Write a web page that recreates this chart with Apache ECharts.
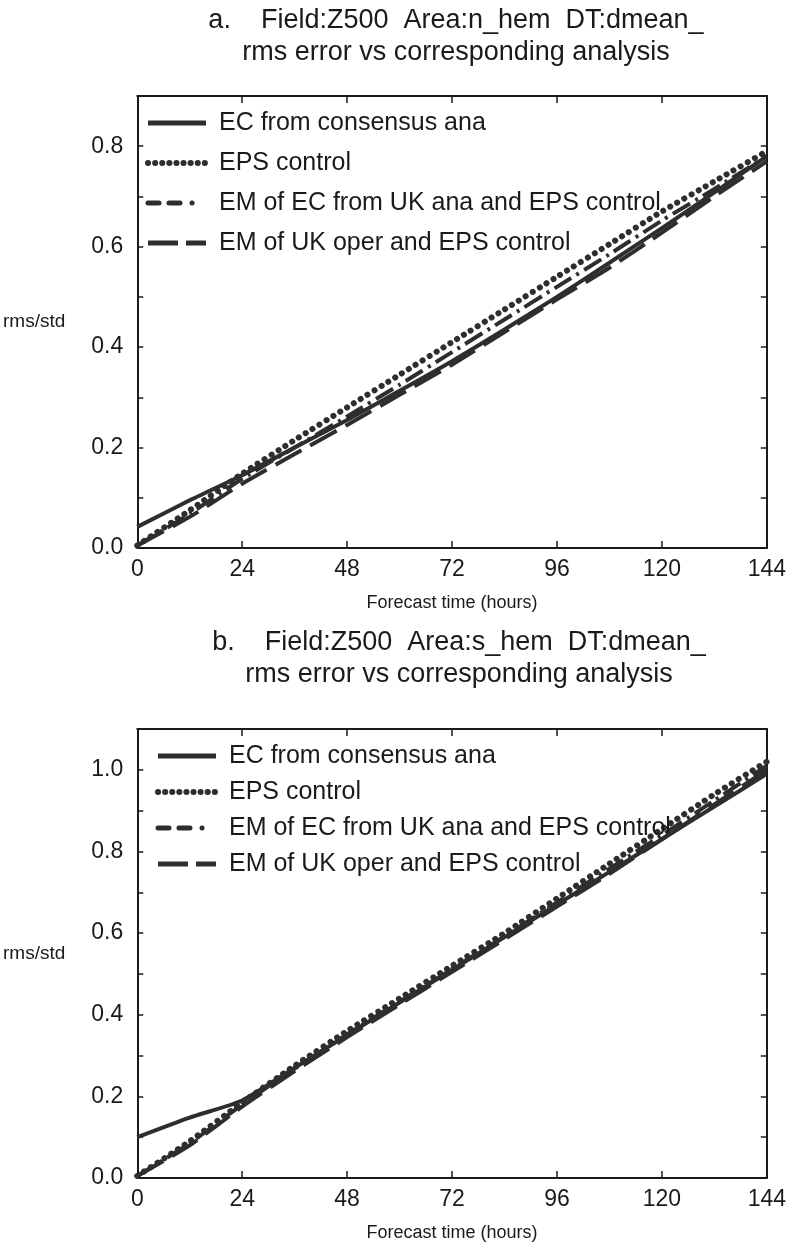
<!DOCTYPE html>
<html>
<head>
<meta charset="utf-8">
<script src="https://cdn.jsdelivr.net/npm/echarts@6/dist/echarts.min.js"></script>
<style>
  html, body { margin: 0; padding: 0; background: #fff; }
  #chart { width: 789px; height: 1253px; }
</style>
</head>
<body>
<div id="chart"></div>
<script>
// forecast hours (x) shared by both panels
const hours = [0, 12, 24, 36, 48, 60, 72, 84, 96, 108, 120, 132, 144];

const seriesNames = [
  'EC from consensus ana',
  'EPS control',
  'EM of EC from UK ana and EPS control',
  'EM of UK oper and EPS control'
];

// panel a : n_hem
const nhemEC      = [0.042, 0.095, 0.145, 0.200, 0.255, 0.313, 0.372, 0.435, 0.500, 0.568, 0.637, 0.708, 0.780];
const nhemEPS     = [0.005, 0.075, 0.148, 0.215, 0.280, 0.345, 0.410, 0.475, 0.540, 0.605, 0.670, 0.730, 0.790];
const nhemEMecUK  = [0.005, 0.068, 0.138, 0.200, 0.262, 0.325, 0.390, 0.455, 0.520, 0.585, 0.652, 0.715, 0.780];
const nhemEMukOp  = [0.005, 0.062, 0.128, 0.187, 0.245, 0.305, 0.365, 0.430, 0.495, 0.558, 0.628, 0.700, 0.770];

// panel b : s_hem
const shemEC      = [0.100, 0.148, 0.190, 0.270, 0.350, 0.430, 0.510, 0.590, 0.670, 0.750, 0.830, 0.910, 0.990];
const shemEPS     = [0.005, 0.090, 0.185, 0.275, 0.360, 0.440, 0.520, 0.600, 0.685, 0.770, 0.855, 0.940, 1.020];
const shemEMecUK  = [0.005, 0.085, 0.180, 0.268, 0.352, 0.432, 0.512, 0.592, 0.675, 0.758, 0.840, 0.925, 1.010];
const shemEMukOp  = [0.005, 0.080, 0.175, 0.262, 0.345, 0.425, 0.505, 0.585, 0.665, 0.745, 0.830, 0.915, 1.000];

const titleA = 'a.    Field:Z500  Area:n_hem  DT:dmean_\nrms error vs corresponding analysis';
const titleB = 'b.    Field:Z500  Area:s_hem  DT:dmean_\nrms error vs corresponding analysis';

const FONT = "'Liberation Sans Narrow', 'Arial Narrow', 'Liberation Sans', sans-serif";
const INK = '#1a1a1a';
const LINE = '#2e2e2e';

const lineStyles = [
  { type: 'solid', width: 4 },
  { type: [0.1, 8], width: 6, cap: 'round' },
  { type: [20, 6, 3, 6], width: 4 },
  { type: [30, 10], width: 4 }
];

// line samples in the legend (shorter pattern so it fits the icon)
const legendLineStyles = [
  { type: 'solid', width: 5 },
  { type: [0.1, 7], width: 6, cap: 'round' },
  { type: [11, 10, 11, 12, 0.1, 40], width: 5, cap: 'round' },
  { type: [30, 8], width: 5 }
];

const panels = [
  { data: [nhemEC, nhemEPS, nhemEMecUK, nhemEMukOp], ymax: 0.9, title: titleA },
  { data: [shemEC, shemEPS, shemEMecUK, shemEMukOp], ymax: 1.1, title: titleB }
];

const grids = [
  { left: 133, right: 19, top: 96, height: 452 },
  { left: 136, right: 17, top: 729, height: 449 }
];

const chart = echarts.init(document.getElementById('chart'), null, { renderer: 'canvas' });

const evenLabel = (v) => {
  const t = Math.round(v * 10);
  return t % 2 === 0 ? (t / 10).toFixed(1) : '';
};

const frameLine = { onZero: false, lineStyle: { color: INK, width: 2 } };
const frameTick = { inside: true, length: 7, lineStyle: { color: INK, width: 1.5 } };

const xAxes = [];
const yAxes = [];
const series = [];

panels.forEach((p, i) => {
  // bottom x axis with labels
  xAxes.push({
    type: 'value', gridIndex: i, min: 0, max: 144, interval: 24,
    name: 'Forecast time (hours)', nameLocation: 'middle', nameGap: 46,
    nameTextStyle: { fontFamily: FONT, fontSize: 18, color: INK },
    axisLine: frameLine,
    axisTick: frameTick,
    axisLabel: { fontFamily: FONT, fontSize: 23, color: INK, margin: 10 },
    splitLine: { show: false }
  });
  // top border
  xAxes.push({
    type: 'value', gridIndex: i, position: 'top', min: 0, max: 144, interval: 24,
    axisLine: frameLine,
    axisTick: frameTick,
    axisLabel: { show: false },
    splitLine: { show: false }
  });
  yAxes.push({
    type: 'value', gridIndex: i, min: 0, max: p.ymax, interval: 0.1,
    name: 'rms/std', nameLocation: 'middle', nameRotate: 0, nameGap: 72,
    nameTextStyle: { fontFamily: FONT, fontSize: 19, color: INK, padding: i === 0 ? [0, 0, 0, 0] : [0, 0, 34, 0] },
    axisLine: frameLine,
    axisTick: Object.assign({}, frameTick, { length: 6 }),
    axisLabel: { fontFamily: FONT, fontSize: 23, color: INK, margin: 14, formatter: evenLabel, showMaxLabel: false },
    splitLine: { show: false }
  });
  // right border
  yAxes.push({
    type: 'value', gridIndex: i, position: 'right', min: 0, max: p.ymax, interval: 0.1,
    axisLine: frameLine,
    axisTick: Object.assign({}, frameTick, { length: 6 }),
    axisLabel: { show: false },
    splitLine: { show: false }
  });

  p.data.forEach((vals, k) => {
    series.push({
      name: seriesNames[k],
      type: 'line',
      xAxisIndex: i * 2,
      yAxisIndex: i * 2,
      data: hours.map((h, j) => [h, vals[j]]),
      symbol: 'none',
      smooth: 0.2,
      lineStyle: Object.assign({ color: LINE }, lineStyles[k]),
      itemStyle: { color: LINE },
      z: 4 - k
    });
  });
});

const legendCommon = {
  orient: 'vertical',
  itemWidth: 58,
  itemHeight: 14,
  selectedMode: false,
  // hide the circle marker, keep only the line sample
  itemStyle: { opacity: 0, color: 'transparent', borderWidth: 0 },
  lineStyle: { width: 5 },
  textStyle: { fontFamily: FONT, fontSize: 25, color: INK, padding: [0, 0, 0, 8], lineHeight: 26 },
  data: seriesNames.map((name, k) => ({ name: name, lineStyle: legendLineStyles[k] }))
};

const option = {
  backgroundColor: '#fff',
  animation: false,
  title: panels.map((p, i) => ({
    text: p.title,
    left: i === 0 ? 451 : 454,
    top: i === 0 ? 0 : 622,
    textAlign: 'center',
    textStyle: { fontFamily: FONT, fontSize: 27, fontWeight: 'normal', color: INK, lineHeight: 32 }
  })),
  legend: [
    Object.assign({}, legendCommon, { left: 140, top: 105, itemGap: 14 }),
    Object.assign({}, legendCommon, { left: 150, top: 738, itemGap: 10 })
  ],
  grid: grids,
  xAxis: xAxes,
  yAxis: yAxes,
  series: series
};

chart.setOption(option);
</script>
</body>
</html>
